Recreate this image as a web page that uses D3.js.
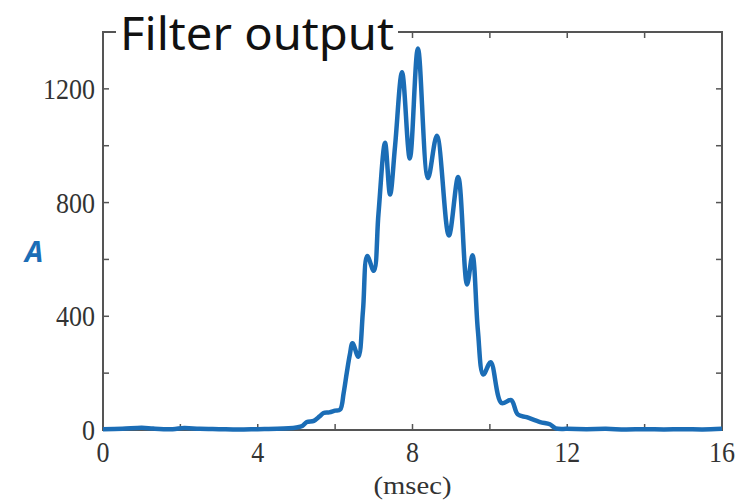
<!DOCTYPE html>
<html>
<head>
<meta charset="utf-8">
<script src="https://cdn.jsdelivr.net/npm/d3@7"></script>
<style>
  html, body { margin: 0; padding: 0; background: #fff; }
  svg { display: block; }
</style>
</head>
<body>
<svg id="chart" width="741" height="501"></svg>
<script>
// Filter output amplitude over time
const timeMs = [
  0, 0.5, 1.0, 1.3, 1.8, 2.1, 2.5, 3.0, 3.5, 4.0, 4.5, 4.8, 5.0, 5.15, 5.27,
  5.45, 5.6, 5.7, 5.85, 6.0, 6.13, 6.22, 6.3, 6.38, 6.45, 6.6,
  6.72, 6.83, 7.0, 7.12, 7.29, 7.42, 7.55, 7.73, 7.93, 8.14,
  8.4, 8.63, 8.94, 9.18, 9.41, 9.55, 9.69, 9.83, 10.02, 10.3,
  10.55, 10.72, 10.95, 11.3, 11.55, 11.7, 12.0, 12.5, 13.0, 13.5, 14.0, 14.5, 15.0, 15.5, 16.0
];
const amplitude = [
  3, 4, 8, 5, 3, 7, 4, 3, 2, 3, 4, 6, 9, 14, 28,
  32, 48, 60, 62, 68, 72, 130, 200, 265, 305, 258,
  420, 612, 560, 760, 1010, 828, 1000, 1258, 955, 1342,
  886, 1035, 684, 890, 512, 615, 350, 195, 238, 95,
  105, 55, 45, 28, 20, 6, 4, 3, 4, 2, 3, 2, 3, 2, 4
];
const xTicks = [0, 4, 8, 12, 16];
const xMinor = [2, 6, 10, 14];
const yTicks = [0, 400, 800, 1200];
const yMinor = [200, 600, 1000];

const svg = d3.select("#chart");
const plotL = 103, plotR = 722, plotT = 32, plotB = 430;

const x = d3.scaleLinear().domain([0, 16]).range([plotL, plotR]);
const y = d3.scaleLinear().domain([0, 1400]).range([plotB, plotT]);

const frameColor = "#555";
const lineBlue = "#1b6db6";

// plot frame
svg.append("rect")
  .attr("x", plotL).attr("y", plotT)
  .attr("width", plotR - plotL).attr("height", plotB - plotT)
  .attr("fill", "none").attr("stroke", frameColor).attr("stroke-width", 2);

// inward ticks on all four sides
const tickLen = 6;
const allX = xTicks.concat(xMinor).filter(v => v > 0 && v < 16);
const allY = yTicks.concat(yMinor).filter(v => v > 0);
const tickG = svg.append("g").attr("stroke", frameColor).attr("stroke-width", 1.5);
allX.forEach(v => {
  tickG.append("line").attr("x1", x(v)).attr("x2", x(v)).attr("y1", plotB).attr("y2", plotB - tickLen);
  tickG.append("line").attr("x1", x(v)).attr("x2", x(v)).attr("y1", plotT).attr("y2", plotT + tickLen);
});
allY.forEach(v => {
  tickG.append("line").attr("y1", y(v)).attr("y2", y(v)).attr("x1", plotL).attr("x2", plotL + tickLen);
  tickG.append("line").attr("y1", y(v)).attr("y2", y(v)).attr("x1", plotR).attr("x2", plotR - tickLen);
});

// tick labels: tall, narrow half-width serif digits
const labelFont = "'Liberation Serif', 'DejaVu Serif', serif";
const charW = 13;
svg.append("g").selectAll("text").data(xTicks).join("text")
  .attr("x", d => x(d)).attr("y", 462)
  .attr("text-anchor", "middle")
  .attr("font-family", labelFont).attr("font-size", 30)
  .attr("textLength", d => String(d).length * charW)
  .attr("lengthAdjust", "spacingAndGlyphs")
  .attr("fill", "#333")
  .text(d => d);
svg.append("g").selectAll("text").data(yTicks).join("text")
  .attr("x", 95).attr("y", d => y(d) + 10)
  .attr("text-anchor", "end")
  .attr("font-family", labelFont).attr("font-size", 30)
  .attr("textLength", d => String(d).length * charW)
  .attr("lengthAdjust", "spacingAndGlyphs")
  .attr("fill", "#333")
  .text(d => d);

// axis titles
svg.append("text")
  .attr("x", x(8)).attr("y", 494)
  .attr("text-anchor", "middle")
  .attr("font-family", labelFont).attr("font-size", 26)
  .attr("textLength", 6 * charW).attr("lengthAdjust", "spacingAndGlyphs")
  .attr("fill", "#333")
  .text("(msec)");
svg.append("text")
  .attr("x", 34).attr("y", 262)
  .attr("text-anchor", "middle")
  .attr("font-family", "'Open Sans', 'DejaVu Sans', sans-serif")
  .attr("font-style", "italic").attr("font-weight", "bold")
  .attr("font-size", 29)
  .attr("fill", lineBlue)
  .text("A");

// signal trace
const pts = timeMs.map((t, i) => [t, amplitude[i]]);
const line = d3.line()
  .x(d => x(d[0])).y(d => y(d[1]))
  .curve(d3.curveCatmullRom.alpha(0.5));
svg.append("path")
  .datum(pts)
  .attr("d", line)
  .attr("fill", "none")
  .attr("stroke", lineBlue)
  .attr("stroke-width", 4.5)
  .attr("stroke-linejoin", "round");

// chart title sitting over the top frame edge
svg.append("rect")
  .attr("x", 116).attr("y", 14).attr("width", 282).attr("height", 40)
  .attr("fill", "#fff");
svg.append("text")
  .attr("x", 120).attr("y", 50)
  .attr("font-family", "'Noto Sans', 'Open Sans', sans-serif")
  .attr("font-size", 46)
  .attr("textLength", 274).attr("lengthAdjust", "spacingAndGlyphs")
  .attr("fill", "#111")
  .text("Filter output");
</script>
</body>
</html>
